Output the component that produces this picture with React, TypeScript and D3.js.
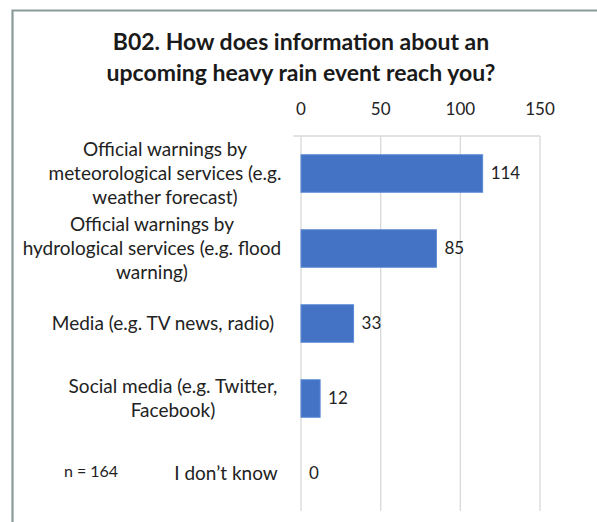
import React from "react";
import * as d3 from "d3";

const categories: string[][] = [
  ["Official warnings by", "meteorological services (e.g.", "weather forecast)"],
  ["Official warnings by", "hydrological services (e.g. flood", "warning)"],
  ["Media (e.g. TV news, radio)"],
  ["Social media (e.g. Twitter,", "Facebook)"],
  ["I don\u2019t know"],
];
const values: number[] = [114, 85, 33, 12, 0];
const ticks: number[] = [0, 50, 100, 150];
const titleLines: string[] = [
  "B02. How does information about an",
  "upcoming heavy rain event reach you?",
];
const note = "n = 164";

// layout
const labelCenterX = [165, 152, 163, 173, 226];
const FONT = "Lato, 'Open Sans', sans-serif";

export default function App() {
  const W = 597;
  const H = 522;
  const x = d3.scaleLinear().domain([0, 150]).range([301, 540]);
  const y = d3
    .scaleBand<number>()
    .domain(categories.map((_, i) => i))
    .range([136, 511])
    .paddingInner(0.5)
    .paddingOuter(0.25);
  const lineH = 24;
  return (
    <svg
      width={W}
      height={H}
      style={{ position: "absolute", left: 0, top: 0, background: "#fff" }}
      fontFamily={FONT}
    >
      <rect x={0} y={0} width={W} height={H} fill="#fff" />
      {/* chart border */}
      <path d={`M12.5,${H} L12.5,10.5 L${W},10.5`} fill="none" stroke="#8a9b99" strokeWidth={2.2} />
      {/* title */}
      {titleLines.map((t, i) => (
        <text
          key={i}
          x={301}
          y={50 + i * 31}
          textAnchor="middle"
          fontSize={23}
          fontWeight="bold"
          fill="#1a1a1a"
        >
          {t}
        </text>
      ))}
      {/* gridlines */}
      {ticks.map((t) => (
        <line key={t} x1={x(t)} x2={x(t)} y1={136} y2={511} stroke="#d9d9d9" strokeWidth={1.3} />
      ))}
      {/* top axis line */}
      <line x1={293} x2={x(150)} y1={136} y2={136} stroke="#d9d9d9" strokeWidth={1.3} />
      {ticks.map((t) => (
        <text key={t} x={x(t)} y={115} textAnchor="middle" fontSize={17} fill="#222">
          {t}
        </text>
      ))}
      {/* bars */}
      {values.map((v, i) => (
        <g key={i}>
          {v > 0 && (
            <rect
              x={x(0)}
              y={y(i)!}
              width={x(v) - x(0)}
              height={y.bandwidth()}
              fill="#4472c4"
              stroke="#5b8bd6"
              strokeWidth={1}
            />
          )}
          <text
            x={x(v) + 8}
            y={y(i)! + y.bandwidth() / 2}
            dy="0.35em"
            fontSize={17}
            fill="#222"
          >
            {v}
          </text>
        </g>
      ))}
      {/* category labels */}
      {categories.map((lines, i) => {
        const cy = y(i)! + y.bandwidth() / 2;
        const y0 = cy - ((lines.length - 1) * lineH) / 2;
        return lines.map((l, j) => (
          <text
            key={`${i}-${j}`}
            x={labelCenterX[i]}
            y={y0 + j * lineH}
            dy="0.35em"
            textAnchor="middle"
            fontSize={19}
            fill="#222"
          >
            {l}
          </text>
        ));
      })}
      <text x={91} y={y(4)! + y.bandwidth() / 2 - 2} dy="0.35em" textAnchor="middle" fontSize={16} fill="#222">
        {note}
      </text>
    </svg>
  );
}
